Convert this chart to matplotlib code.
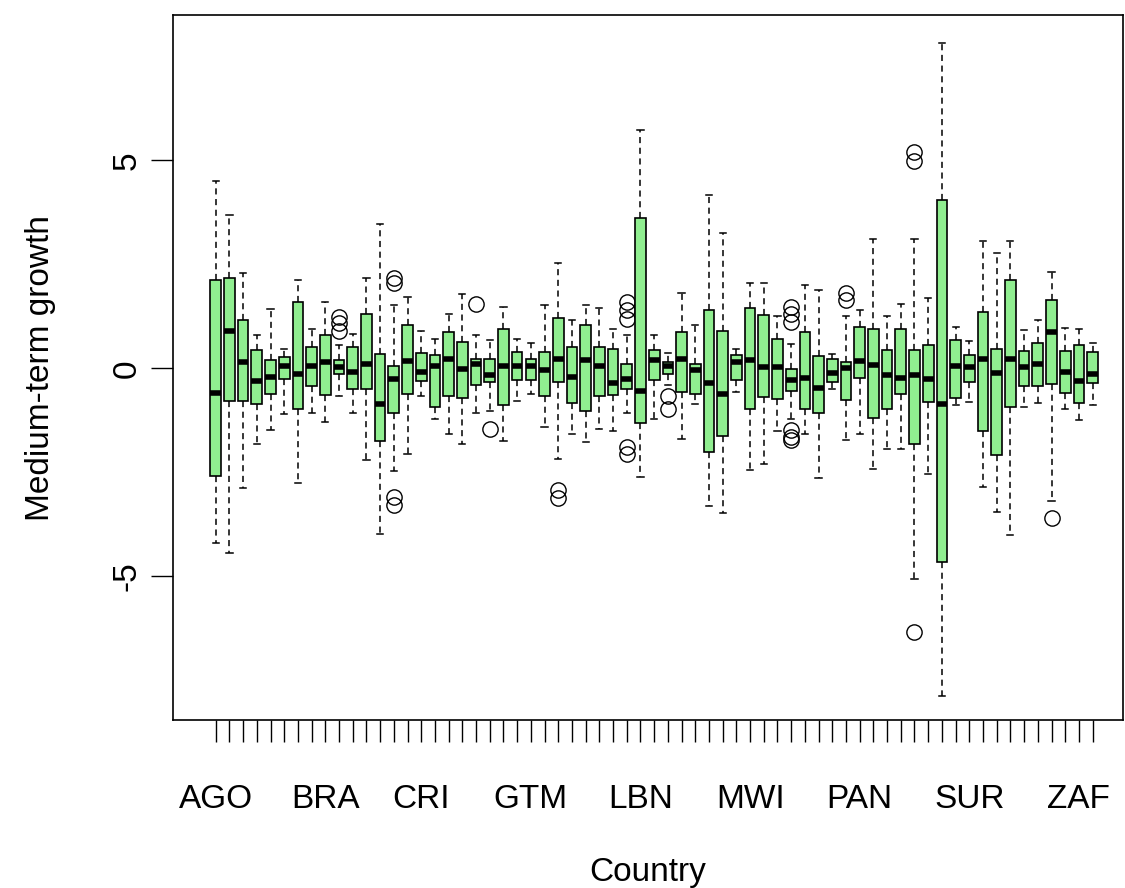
import matplotlib.pyplot as plt
import numpy as np

plt.rcParams['font.family'] = ['Liberation Sans', 'DejaVu Sans']

countries = ["AGO", "ARG", "ARM", "BDI", "BEN", "BFA", "BGD", "BOL", "BRA", "BWA",
             "CHL", "CHN", "CIV", "CMR", "COL", "CRI", "DOM", "DZA", "ECU", "EGY",
             "ETH", "GAB", "GHA", "GTM", "HND", "IDN", "IND", "IRN", "JAM", "JOR",
             "KEN", "LBN", "LKA", "MAR", "MDG", "MEX", "MLI", "MOZ", "MUS", "MWI",
             "MYS", "NER", "NGA", "NIC", "NPL", "OMN", "PAK", "PAN", "PER", "PHL",
             "PRY", "RWA", "SDN", "SEN", "SLV", "SUR", "SWZ", "SYR", "TGO", "THA",
             "TUN", "TUR", "URY", "ZAF", "ZMB"]
shown = ["AGO", "BRA", "CRI", "GTM", "LBN", "MWI", "PAN", "SUR", "ZAF"]

whisk_hi = [4.50, 3.68, 2.30, 0.79, 1.42, 0.46, 2.12, 0.95, 1.60, 0.57,
            0.83, 2.16, 3.46, 1.52, 1.71, 0.90, 0.71, 1.31, 1.78, 0.79,
            0.69, 1.47, 0.71, 0.61, 1.52, 2.52, 1.17, 1.52, 1.46, 0.95,
            0.79, 5.72, 0.79, 0.37, 1.81, 1.03, 4.16, 3.25, 0.47, 2.04,
            2.04, 1.25, 0.59, 2.01, 1.88, 0.34, 1.26, 1.40, 3.11, 1.26,
            1.54, 3.11, 1.68, 7.83, 1.00, 0.65, 3.06, 2.77, 3.06, 0.91,
            1.16, 2.32, 0.97, 0.94, 0.60]
q3 = [2.13, 2.16, 1.15, 0.44, 0.19, 0.26, 1.60, 0.50, 0.79, 0.19,
      0.50, 1.31, 0.35, 0.05, 1.03, 0.37, 0.33, 0.86, 0.62, 0.22,
      0.22, 0.95, 0.39, 0.22, 0.39, 1.22, 0.50, 1.03, 0.50, 0.47,
      0.11, 3.61, 0.45, 0.16, 0.86, 0.11, 1.39, 0.90, 0.33, 1.46,
      1.29, 0.71, -0.02, 0.88, 0.29, 0.23, 0.16, 0.98, 0.94, 0.44,
      0.94, 0.44, 0.57, 4.05, 0.67, 0.31, 1.36, 0.47, 2.12, 0.41,
      0.60, 1.64, 0.41, 0.56, 0.38]
median = [-0.59, 0.89, 0.14, -0.31, -0.21, 0.06, -0.14, 0.05, 0.14, 0.02,
          -0.10, 0.11, -0.85, -0.25, 0.17, -0.10, 0.06, 0.22, -0.02, 0.11,
          -0.17, 0.06, 0.06, 0.06, -0.05, 0.22, -0.21, 0.19, 0.05, -0.35,
          -0.25, -0.55, 0.19, 0.06, 0.22, -0.05, -0.35, -0.63, 0.14, 0.19,
          0.02, 0.02, -0.29, -0.24, -0.48, -0.11, 0.01, 0.18, 0.08, -0.16,
          -0.24, -0.16, -0.27, -0.86, 0.06, 0.02, 0.23, -0.11, 0.23, 0.02,
          0.10, 0.88, -0.09, -0.30, -0.13]
q1 = [-2.59, -0.79, -0.79, -0.87, -0.62, -0.26, -0.97, -0.43, -0.65, -0.15,
      -0.51, -0.51, -1.75, -1.07, -0.62, -0.31, -0.93, -0.67, -0.71, -0.41,
      -0.33, -0.89, -0.29, -0.29, -0.67, -0.33, -0.83, -1.03, -0.67, -0.65,
      -0.50, -1.31, -0.29, -0.14, -0.58, -0.61, -2.01, -1.63, -0.29, -0.97,
      -0.69, -0.75, -0.54, -0.97, -1.07, -0.34, -0.76, -0.24, -1.20, -0.99,
      -0.63, -1.83, -0.81, -4.65, -0.71, -0.32, -1.52, -2.09, -0.92, -0.43,
      -0.43, -0.39, -0.60, -0.84, -0.36]
whisk_lo = [-4.21, -4.43, -2.89, -1.83, -1.49, -1.11, -2.76, -1.07, -1.28, -0.67,
            -1.07, -2.20, -3.99, -2.48, -2.05, -0.67, -1.21, -1.59, -1.81, -1.07,
            -1.03, -1.75, -0.79, -0.63, -1.41, -2.17, -1.57, -1.77, -1.47, -1.51,
            -1.07, -2.61, -1.21, -0.41, -1.70, -0.85, -3.32, -3.49, -0.57, -2.44,
            -2.29, -1.51, -1.21, -1.59, -2.64, -0.50, -1.72, -1.59, -2.43, -1.94,
            -1.94, -5.07, -2.54, -7.87, -0.88, -0.81, -2.85, -3.45, -4.00, -0.92,
            -0.84, -3.18, -0.99, -1.24, -0.88]
outliers = {10: [1.23, 1.09, 0.89], 14: [2.17, 2.04, -3.09, -3.29], 20: [1.54],
            21: [-1.46], 26: [-2.93, -3.13], 31: [1.59, 1.41, 1.19, -1.89, -2.05],
            34: [-0.67, -0.97], 43: [1.47, 1.31, 1.11, -1.49, -1.65, -1.73],
            47: [1.80, 1.64], 52: [5.20, 4.99, -6.33], 62: [-3.60]}

stats = []
for i, c in enumerate(countries):
    stats.append(dict(label=c, med=median[i], q1=q1[i], q3=q3[i],
                      whislo=whisk_lo[i], whishi=whisk_hi[i],
                      fliers=outliers.get(i + 1, [])))

fig = plt.figure(figsize=(11.25, 8.88), dpi=100)
ax = fig.add_axes([0.154, 0.189, 0.844, 0.794])
pos = np.arange(1, len(countries) + 1)
ax.bxp(stats, positions=pos, widths=0.78, patch_artist=True,
       boxprops=dict(facecolor='#90EE90', edgecolor='black', linewidth=1.2),
       medianprops=dict(color='black', linewidth=4, solid_capstyle='butt'),
       whiskerprops=dict(color='black', linestyle=(0, (4, 3)), linewidth=1.1),
       capprops=dict(color='black', linewidth=1.1), capwidths=0.45,
       flierprops=dict(marker='o', markerfacecolor='none', markeredgecolor='black',
                       markersize=11, markeredgewidth=1.0))

ax.set_xlim(-2.1, 67.2)
ax.set_ylim(-8.46, 8.49)
ax.set_xticks(pos)
ax.set_xticklabels([c if c in shown else '' for c in countries])
ax.set_yticks([-5, 0, 5])
ax.set_yticklabels(['-5', '0', '5'], rotation=90, va='center')
ax.tick_params(axis='both', length=16, width=1, labelsize=24, pad=6)
ax.tick_params(axis='x', pad=30)
ax.set_xlabel('Country', fontsize=24, labelpad=30)
ax.set_ylabel('Medium-term growth', fontsize=24, labelpad=40)
for s in ax.spines.values():
    s.set_linewidth(1.2)

fig.savefig('out.png', dpi=100)
